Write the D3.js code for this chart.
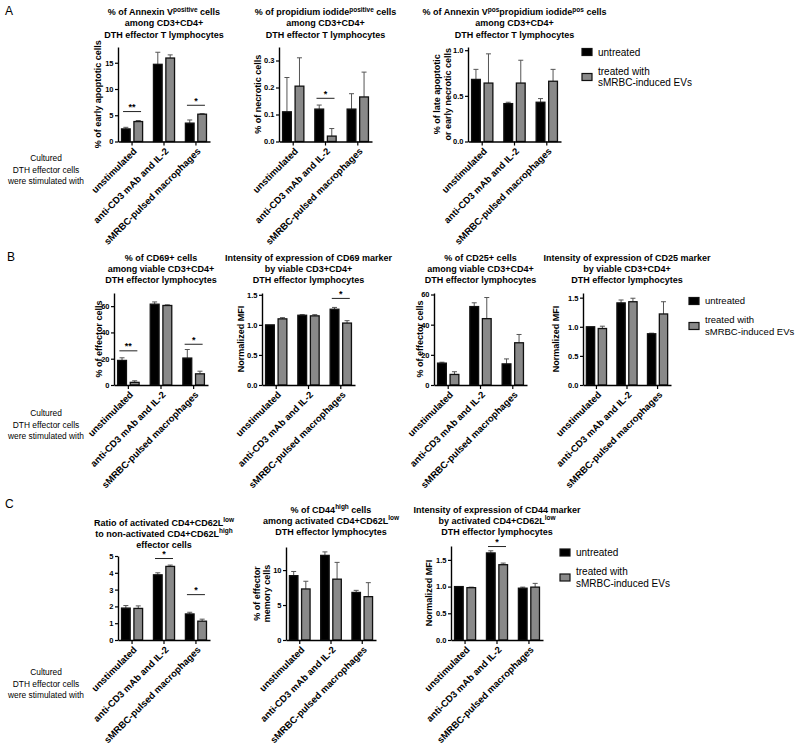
<!DOCTYPE html>
<html>
<head>
<meta charset="utf-8">
<script src="https://cdn.jsdelivr.net/npm/d3@7"></script>
<style>
  body { margin: 0; background: #fff; }
  svg { font-family: Arial, "Liberation Sans", sans-serif; display: block; }
</style>
</head>
<body>
<div id="chart"></div>
<script>
const categories = ["unstimulated", "anti-CD3 mAb and IL-2", "sMRBC-pulsed macrophages"];
const series = ["untreated", "treated with sMRBC-induced EVs"];

// values per category as [untreated, treated]
const earlyApoptoticMean = [[2.4, 3.8], [14.7, 15.9], [3.5, 5.2]];
const earlyApoptoticSem = [[0.3, 0.2], [2.3, 0.6], [0.6, 0.1]];
const earlyApoptoticSig = [["**", 5.7], null, ["*", 6.9]];
const earlyApoptoticTicks = [0, 5, 10, 15];

const necroticMean = [[0.11, 0.205], [0.12, 0.02], [0.12, 0.165]];
const necroticSem = [[0.127, 0.105], [0.015, 0.028], [0.057, 0.092]];
const necroticSig = [null, ["*", 0.16], null];
const necroticTicks = [0, 0.1, 0.2, 0.3];

const lateApoptoticMean = [[0.68, 0.64], [0.415, 0.64], [0.43, 0.66]];
const lateApoptoticSem = [[0.11, 0.32], [0.015, 0.25], [0.04, 0.13]];
const lateApoptoticSig = [null, null, null];
const lateApoptoticTicks = [0, 0.5, 1.0];

const cd69PctMean = [[18.7, 2.0], [61.5, 60.5], [20.5, 8.5]];
const cd69PctSem = [[2.0, 1.2], [1.7, 0.5], [6.5, 2.0]];
const cd69PctSig = [["**", 26], null, ["*", 31]];
const cd69PctTicks = [0, 20, 40, 60];

const cd69MfiMean = [[1.0, 1.1], [1.16, 1.15], [1.26, 1.03]];
const cd69MfiSem = [[0.0, 0.02], [0.01, 0.02], [0.03, 0.04]];
const cd69MfiSig = [null, null, ["*", 1.44]];
const cd69MfiTicks = [0, 0.5, 1.0, 1.5];

const cd25PctMean = [[14.5, 7.0], [52, 44], [14, 28]];
const cd25PctSem = [[0.6, 1.8], [2.5, 14], [3.3, 5.5]];
const cd25PctSig = [null, null, null];
const cd25PctTicks = [0, 20, 40, 60];

const cd25MfiMean = [[1.0, 0.97], [1.41, 1.43], [0.88, 1.22]];
const cd25MfiSem = [[0.0, 0.04], [0.05, 0.06], [0.01, 0.21]];
const cd25MfiSig = [null, null, null];
const cd25MfiTicks = [0, 0.5, 1.0, 1.5];

const ratioMean = [[1.9, 1.88], [3.88, 4.38], [1.55, 1.12]];
const ratioSem = [[0.15, 0.15], [0.12, 0.08], [0.1, 0.12]];
const ratioSig = [null, ["*", 4.85], ["*", 2.7]];
const ratioTicks = [0, 1, 2, 3, 4, 5];

const cd44PctMean = [[9.2, 7.3], [12.1, 8.7], [6.8, 6.2]];
const cd44PctSem = [[0.6, 1.1], [0.5, 2.4], [0.3, 2.0]];
const cd44PctSig = [null, null, null];
const cd44PctTicks = [0, 5, 10];

const cd44MfiMean = [[1.0, 0.98], [1.63, 1.41], [0.97, 0.99]];
const cd44MfiSem = [[0.0, 0.01], [0.04, 0.03], [0.02, 0.07]];
const cd44MfiSig = [null, ["*", 1.75], null];
const cd44MfiTicks = [0, 0.5, 1.0, 1.5];

const f0 = d3.format("d"), f1 = d3.format(".1f");

const charts = [
  { title: ["% of Annexin V^{positive} cells", "among CD3+CD4+", "DTH effector T lymphocytes"],
    ylab: ["% of early apoptotic cells"], labX: [98],
    mean: earlyApoptoticMean, sem: earlyApoptoticSem, sig: earlyApoptoticSig, ticks: earlyApoptoticTicks, fmt: f0,
    max: 18, x0: 118, x1: 210, top: 47, bottom: 141.5, titleY: 15 },
  { title: ["% of propidium iodide^{positive} cells", "among CD3+CD4+", "DTH effector T lymphocytes"],
    ylab: ["% of necrotic cells"], labX: [258],
    mean: necroticMean, sem: necroticSem, sig: necroticSig, ticks: necroticTicks, fmt: f1,
    max: 0.35, x0: 279, x1: 372, top: 47, bottom: 141.5, titleY: 15 },
  { title: ["% of Annexin V^{pos}propidium iodide^{pos} cells", "among CD3+CD4+", "DTH effector T lymphocytes"],
    ylab: ["% of late apoptotic", "or early necrotic cells"], labX: [437, 448],
    mean: lateApoptoticMean, sem: lateApoptoticSem, sig: lateApoptoticSig, ticks: lateApoptoticTicks, fmt: f1,
    max: 1.035, x0: 468, x1: 561, top: 47, bottom: 141.5, titleY: 15 },

  { title: ["% of CD69+ cells", "among viable CD3+CD4+", "DTH effector lymphocytes"],
    ylab: ["% of effector cells"], labX: [99],
    mean: cd69PctMean, sem: cd69PctSem, sig: cd69PctSig, ticks: cd69PctTicks, fmt: f0,
    max: 70, x0: 114, x1: 208, top: 293, bottom: 385, titleY: 260.5 },
  { title: ["Intensity of expression of CD69 marker", "by viable CD3+CD4+", "DTH effector lymphocytes"],
    ylab: ["Normalized MFI"], labX: [241],
    mean: cd69MfiMean, sem: cd69MfiSem, sig: cd69MfiSig, ticks: cd69MfiTicks, fmt: f1,
    max: 1.53, x0: 262, x1: 355, top: 293, bottom: 385, titleY: 260.5 },
  { title: ["% of CD25+ cells", "among viable CD3+CD4+", "DTH effector lymphocytes"],
    ylab: ["% of effector cells"], labX: [420],
    mean: cd25PctMean, sem: cd25PctSem, sig: cd25PctSig, ticks: cd25PctTicks, fmt: f0,
    max: 61, x0: 434, x1: 527, top: 293, bottom: 385, titleY: 260.5 },
  { title: ["Intensity of expression of CD25 marker", "by viable CD3+CD4+", "DTH effector lymphocytes"],
    ylab: ["Normalized MFI"], labX: [556],
    mean: cd25MfiMean, sem: cd25MfiSem, sig: cd25MfiSig, ticks: cd25MfiTicks, fmt: f1,
    max: 1.58, x0: 583, x1: 671, top: 293, bottom: 385, titleY: 260.5 },

  { title: ["Ratio of activated CD4+CD62L^{low}", "to non-activated CD4+CD62L^{high}", "effector cells"],
    ylab: [], labX: [],
    mean: ratioMean, sem: ratioSem, sig: ratioSig, ticks: ratioTicks, fmt: f0,
    max: 5, x0: 118, x1: 210, top: 556, bottom: 640, titleY: 525.5 },
  { title: ["% of CD44^{high} cells", "among activated CD4+CD62L^{low}", "DTH effector lymphocytes"],
    ylab: ["% of effector", "memory cells"], labX: [257, 267],
    mean: cd44PctMean, sem: cd44PctSem, sig: cd44PctSig, ticks: cd44PctTicks, fmt: f0,
    max: 13.3, x0: 286, x1: 376, top: 547, bottom: 640, titleY: 512.5 },
  { title: ["Intensity of expression of CD44 marker", "by activated CD4+CD62L^{low}", "DTH effector lymphocytes"],
    ylab: ["Normalized MFI"], labX: [429],
    mean: cd44MfiMean, sem: cd44MfiSem, sig: cd44MfiSig, ticks: cd44MfiTicks, fmt: f1,
    max: 1.76, x0: 451, x1: 543, top: 546, bottom: 640, titleY: 512.5 }
];

const panels = [
  { letter: "A", lx: 5, ly: 15, cultY: 158, legX: 582, legY: 48.5, legFont: 10 },
  { letter: "B", lx: 7, ly: 261, cultY: 413, legX: 689, legY: 297.5, legFont: 9.5 },
  { letter: "C", lx: 5, ly: 508, cultY: 672, legX: 560, legY: 549, legFont: 10 }
];

const colors = ["#000000", "#898989"];

const svg = d3.select("#chart").append("svg")
  .attr("width", 800)
  .attr("height", 744);

// text with ^{...} superscripts
function richText(sel, str) {
  const parts = str.split(/(\^\{[^}]*\})/).filter(s => s.length);
  let raised = false;
  parts.forEach(p => {
    if (p.startsWith("^{")) {
      sel.append("tspan").attr("dy", -3.5).style("font-size", "6.5px").text(p.slice(2, -1));
      raised = true;
    } else {
      const t = sel.append("tspan").text(p);
      if (raised) { t.attr("dy", 3.5); raised = false; }
    }
  });
}

function drawChart(c) {
  const g = svg.append("g");
  const x = d3.scaleBand().domain(categories).range([c.x0, c.x1])
    .paddingInner(0.34).paddingOuter(0.11);
  const xs = d3.scaleBand().domain(d3.range(series.length)).range([0, x.bandwidth()])
    .paddingInner(0.3);
  const y = d3.scaleLinear().domain([0, c.max]).range([c.bottom, c.top]);

  // error bars (upper)
  categories.forEach((cat, i) => {
    c.mean[i].forEach((v, j) => {
      const cx = x(cat) + xs(j) + xs.bandwidth() / 2;
      const e = c.sem[i][j];
      if (e > 0) {
        g.append("line").attr("x1", cx).attr("x2", cx)
          .attr("y1", y(v)).attr("y2", y(v + e))
          .attr("stroke", "#555").attr("stroke-width", 1);
        g.append("line").attr("x1", cx - 2.5).attr("x2", cx + 2.5)
          .attr("y1", y(v + e)).attr("y2", y(v + e))
          .attr("stroke", "#555").attr("stroke-width", 1);
      }
    });
  });

  // bars
  categories.forEach((cat, i) => {
    g.selectAll(null).data(c.mean[i]).join("rect")
      .attr("x", (d, j) => x(cat) + xs(j))
      .attr("y", d => y(d))
      .attr("width", xs.bandwidth())
      .attr("height", d => c.bottom - y(d))
      .attr("fill", (d, j) => colors[j])
      .attr("stroke", "#111")
      .attr("stroke-width", 1.3);
  });

  // significance markers
  c.sig.forEach((s, i) => {
    if (!s) return;
    const cx = x(categories[i]) + x.bandwidth() / 2;
    g.append("line").attr("x1", cx - 9).attr("x2", cx + 9)
      .attr("y1", y(s[1])).attr("y2", y(s[1]))
      .attr("stroke", "#222").attr("stroke-width", 1);
    g.append("text").attr("x", cx).attr("y", y(s[1]) - 1.5)
      .attr("text-anchor", "middle")
      .style("font-size", "9px").style("font-weight", "bold")
      .text(s[0]);
  });

  // y axis
  const ya = g.append("g").attr("transform", `translate(${c.x0},0)`)
    .call(d3.axisLeft(y).tickValues(c.ticks).tickFormat(c.fmt)
      .tickSize(3).tickPadding(1.5).tickSizeOuter(0))
    .attr("font-family", null).attr("font-size", null);
  ya.select(".domain").attr("stroke-width", 1.4);
  ya.selectAll(".tick line").attr("stroke-width", 1.2);
  ya.selectAll("text").style("font-size", "7.5px").style("font-weight", "bold");

  // x axis with rotated category labels
  const xa = g.append("g").attr("transform", `translate(0,${c.bottom})`)
    .call(d3.axisBottom(x).tickSize(4).tickSizeOuter(0))
    .attr("font-family", null).attr("font-size", null);
  xa.select(".domain").attr("stroke-width", 1.4);
  xa.selectAll(".tick line").attr("stroke-width", 1.2);
  xa.selectAll("text")
    .attr("x", 0).attr("y", 0).attr("dy", "0.35em")
    .attr("transform", "translate(3,8) rotate(-45)")
    .attr("text-anchor", "end")
    .style("font-size", "9.5px").style("font-weight", "bold");

  // title
  const cxm = (c.x0 + c.x1) / 2;
  c.title.forEach((line, k) => {
    const t = g.append("text").attr("x", cxm).attr("y", c.titleY + k * 11.3)
      .attr("text-anchor", "middle")
      .style("font-size", "9px").style("font-weight", "bold");
    richText(t, line);
  });

  // y label
  const ym = (c.top + c.bottom) / 2;
  c.ylab.forEach((line, k) => {
    g.append("text")
      .attr("transform", `translate(${c.labX[k] + 3.2},${ym}) rotate(-90)`)
      .attr("text-anchor", "middle")
      .style("font-size", "9px").style("font-weight", "bold")
      .text(line);
  });
}

charts.forEach(drawChart);

panels.forEach(p => {
  svg.append("text").attr("x", p.lx).attr("y", p.ly)
    .style("font-size", "12px").text(p.letter);

  ["Cultured", "DTH effector cells", "were stimulated with"].forEach((s, k) => {
    svg.append("text").attr("x", 46).attr("y", p.cultY + 3 + k * 11.5)
      .attr("text-anchor", "middle").style("font-size", "8.4px").text(s);
  });

  const leg = svg.append("g").attr("transform", `translate(${p.legX},${p.legY})`);
  const labels = [["untreated"], ["treated with", "sMRBC-induced EVs"]];
  series.forEach((s, j) => {
    const yy = j * 25;
    leg.append("rect").attr("x", 0).attr("y", yy).attr("width", 10).attr("height", 7)
      .attr("fill", colors[j]).attr("stroke", "#111").attr("stroke-width", 1.2);
    labels[j].forEach((l, k) => {
      const off = labels[j].length === 1 ? 0 : (k === 0 ? -6 : 5.5);
      leg.append("text").attr("x", 16).attr("y", yy + 3.5 + off).attr("dy", "0.35em")
        .style("font-size", p.legFont + "px").text(l);
    });
  });
});
</script>
</body>
</html>
